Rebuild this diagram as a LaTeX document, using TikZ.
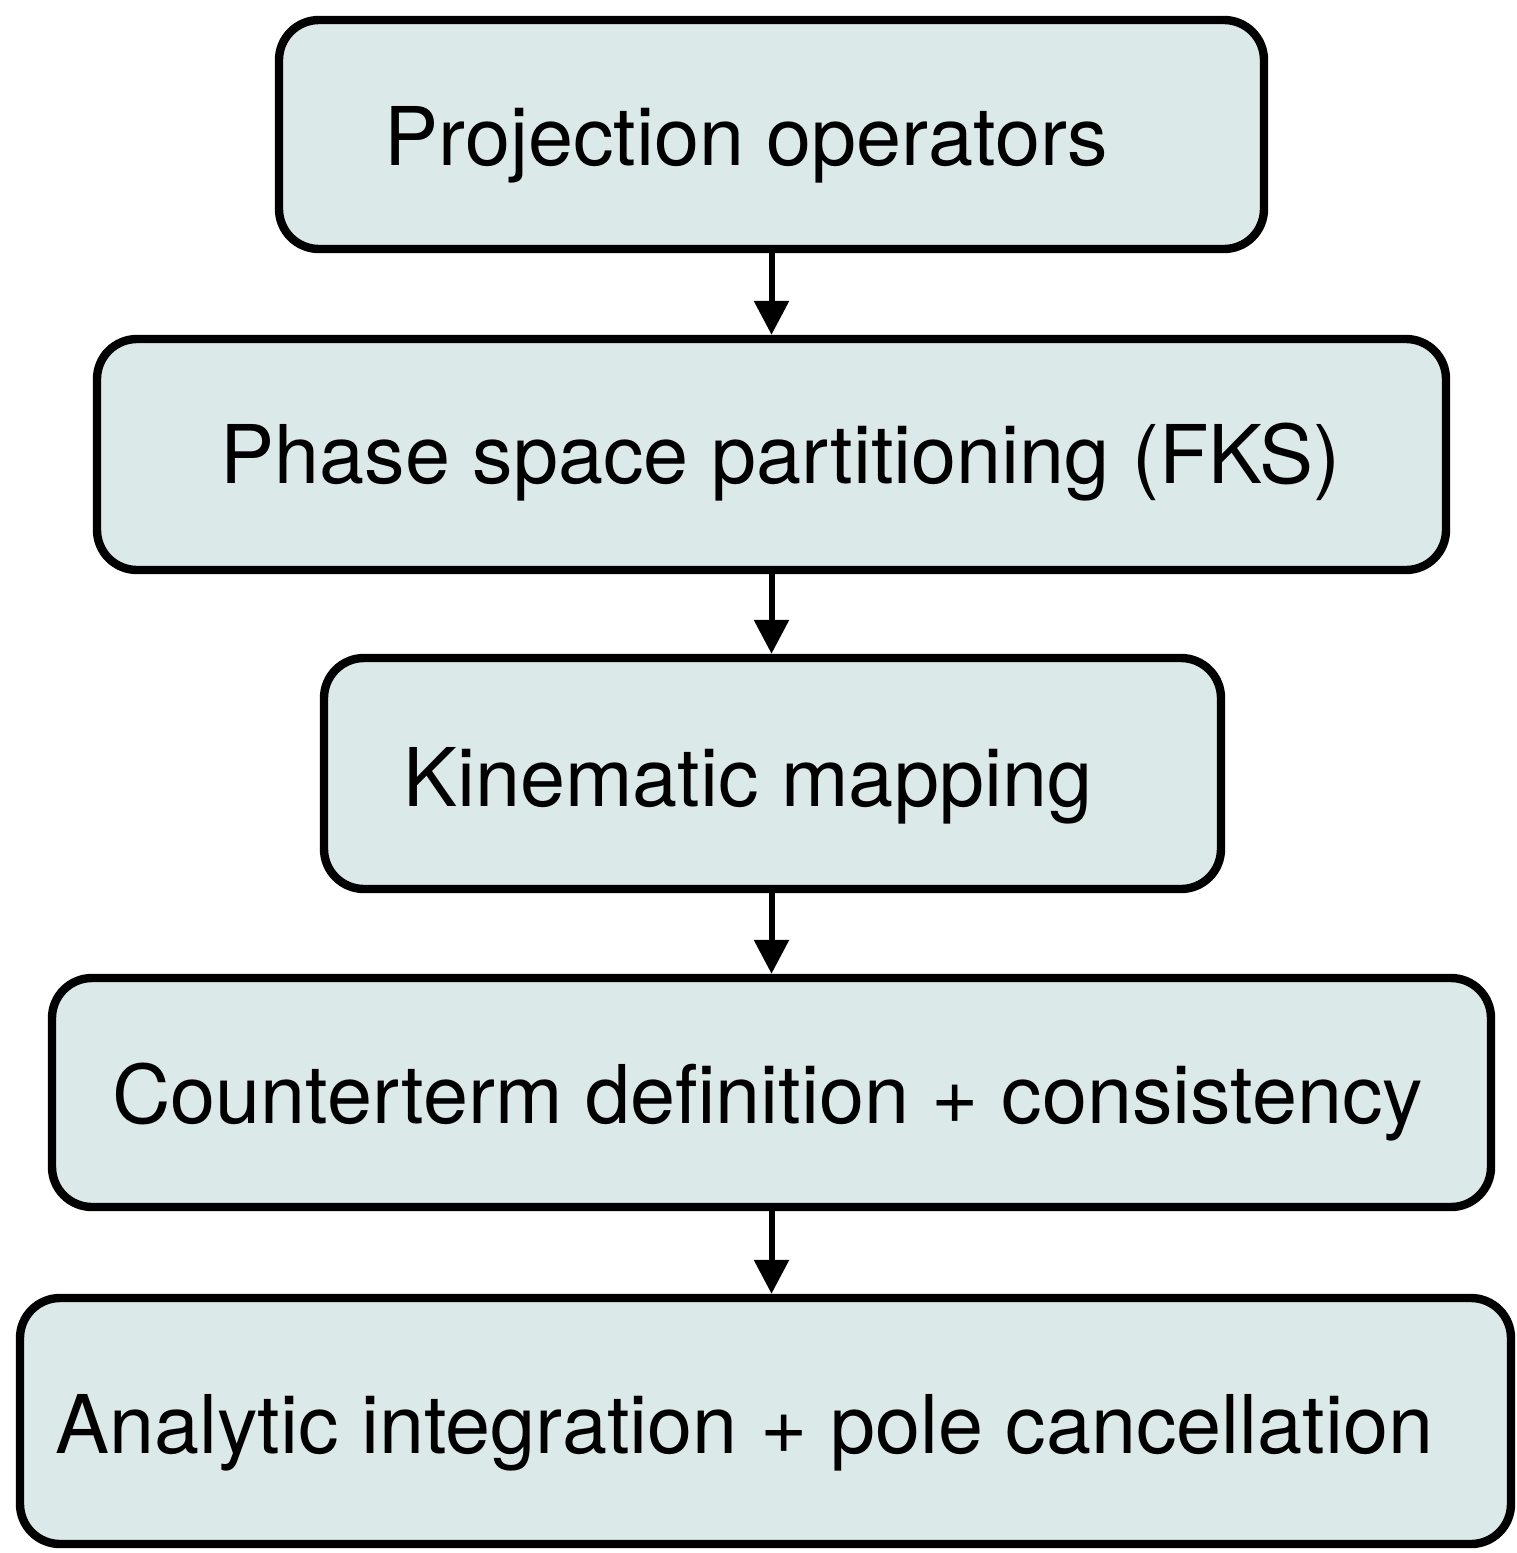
\documentclass[tikz,border=0pt]{standalone}
\usepackage{fontspec}
\setmainfont{TeX Gyre Heros}
\usetikzlibrary{arrows.meta}
\definecolor{boxfill}{HTML}{DCE9E9}
\tikzset{
  stage/.style={draw=black, line width=4.2pt, fill=boxfill, rounded corners=20pt,
    inner sep=0pt, rectangle},
  stagetext/.style={anchor=base west, inner sep=0pt,
    font=\fontsize{40.5}{48}\selectfont},
  flow/.style={line width=3pt, -{Triangle[length=17pt,width=17pt]}}
}
\begin{document}
\begin{tikzpicture}[x=0.5pt, y=-0.5pt]
  \useasboundingbox (0,0) rectangle (1516,1553);

  % boxes of the pipeline
  \node[stage, minimum width=492.5pt, minimum height=114.5pt] (b1) at (771.5,134.5) {};
  \node[stage, minimum width=674.5pt, minimum height=115.5pt] (b2) at (771.5,454.5) {};
  \node[stage, minimum width=448.5pt, minimum height=115.5pt] (b3) at (772.5,773.5) {};
  \node[stage, minimum width=719.5pt, minimum height=114.5pt] (b4) at (771.5,1092.5) {};
  \node[stage, minimum width=745.5pt, minimum height=123pt] (b5) at (765.5,1421) {};

  % labels
  \node[stagetext] (t1) at (384,165) {Projection operators};
  \node[stagetext] (t2) at (220,483) {Phase space partitioning (FKS)};
  \node[stagetext] (t3) at (403,806) {Kinematic mapping};
  \node[stagetext] (t4) at (112,1123) {Counterterm definition + consistency};
  \node[stagetext] (t5) at (55,1453) {Analytic integration + pole cancellation};

  % connectors
  \draw[flow] (b1.south) -- (b1.south |- b2.north);
  \draw[flow] (b1.south |- b2.south) -- (b1.south |- b3.north);
  \draw[flow] (b1.south |- b3.south) -- (b1.south |- b4.north);
  \draw[flow] (b1.south |- b4.south) -- (b1.south |- b5.north);
\end{tikzpicture}
\end{document}
